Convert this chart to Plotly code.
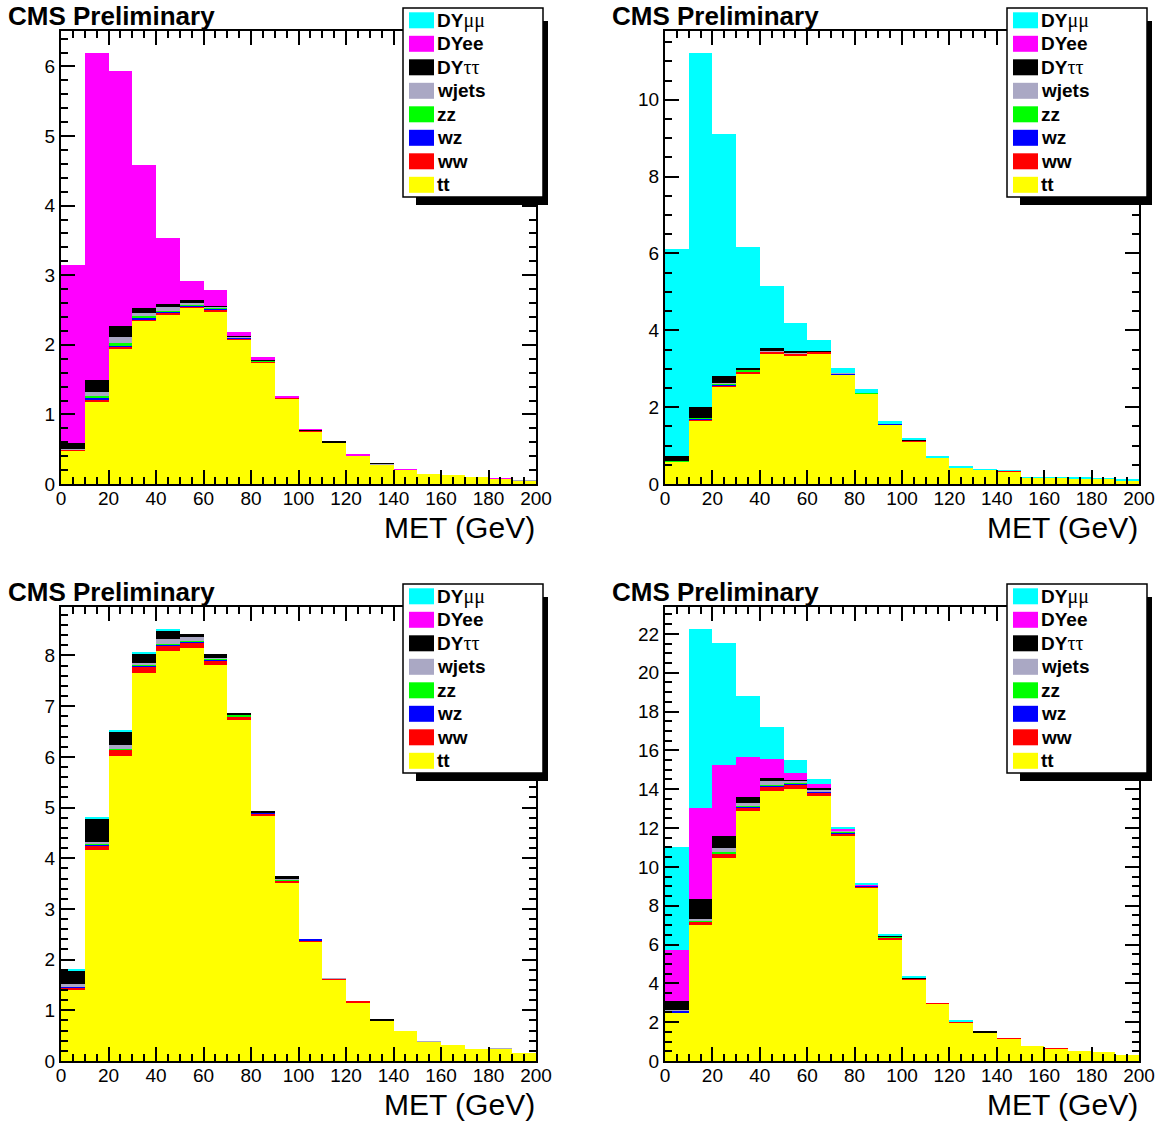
import plotly.graph_objects as go

# ---------------- data ----------------
bin_low = [0, 10, 20, 30, 40, 50, 60, 70, 80, 90, 100, 110, 120, 130, 140, 150, 160, 170, 180, 190]
bin_width = 10
x_ticks = [0, 20, 40, 60, 80, 100, 120, 140, 160, 180, 200]

# panel A (top left)
A_tt = [0.48, 1.18, 1.94, 2.34, 2.44, 2.53, 2.48, 2.08, 1.75, 1.23, 0.76, 0.595, 0.41, 0.285, 0.205, 0.14, 0.13, 0.095, 0.078, 0.055]
A_ww = [0.01, 0.03, 0.03, 0.03, 0.02, 0.02, 0.025, 0.015, 0.01, 0.01, 0.005, 0.005, 0.005, 0.0, 0.003, 0, 0, 0, 0, 0]
A_wz = [0.005, 0.03, 0.02, 0.02, 0.02, 0.015, 0.01, 0.01, 0.005, 0.005, 0.005, 0, 0, 0, 0, 0, 0, 0, 0, 0]
A_zz = [0.005, 0.03, 0.03, 0.02, 0.01, 0.01, 0.015, 0.005, 0.005, 0, 0, 0, 0, 0, 0, 0, 0, 0, 0, 0]
A_wj = [0.01, 0.05, 0.09, 0.05, 0.06, 0.04, 0.02, 0.005, 0, 0, 0.005, 0, 0, 0.005, 0, 0, 0, 0, 0, 0.002]
A_dytt = [0.08, 0.18, 0.16, 0.07, 0.03, 0.025, 0.01, 0.005, 0.005, 0.005, 0.005, 0.005, 0, 0.005, 0, 0, 0, 0, 0, 0]
A_dyee = [2.56, 4.70, 3.66, 2.06, 0.96, 0.28, 0.23, 0.06, 0.045, 0.005, 0.005, 0, 0.005, 0, 0.005, 0, 0, 0, 0.003, 0]
A_dymm = [0, 0, 0, 0, 0, 0, 0, 0, 0, 0, 0, 0, 0, 0, 0, 0, 0, 0, 0, 0]

# panel B (top right)
B_tt = [0.58, 1.66, 2.53, 2.88, 3.40, 3.35, 3.39, 2.84, 2.35, 1.54, 1.10, 0.69, 0.42, 0.375, 0.335, 0.17, 0.165, 0.155, 0.135, 0.095]
B_ww = [0.01, 0.03, 0.04, 0.04, 0.04, 0.04, 0.05, 0.02, 0.01, 0.01, 0.02, 0.01, 0.005, 0.005, 0.005, 0, 0, 0, 0, 0]
B_wz = [0.0, 0.01, 0.02, 0.02, 0.01, 0.01, 0.01, 0.02, 0.005, 0.02, 0, 0, 0, 0, 0, 0, 0, 0, 0, 0]
B_zz = [0.01, 0.03, 0.03, 0.03, 0.01, 0, 0, 0, 0.01, 0, 0, 0, 0, 0, 0, 0, 0, 0, 0, 0]
B_wj = [0, 0, 0.02, 0.01, 0.01, 0.01, 0, 0.01, 0, 0, 0, 0, 0, 0, 0, 0, 0, 0, 0, 0]
B_dytt = [0.14, 0.28, 0.18, 0.05, 0.07, 0.04, 0.01, 0.01, 0.005, 0.01, 0.02, 0, 0, 0, 0, 0, 0, 0, 0, 0]
B_dyee = [0, 0, 0, 0, 0, 0, 0, 0, 0, 0, 0, 0, 0, 0, 0, 0, 0, 0, 0, 0]
B_dymm = [5.37, 9.22, 6.30, 3.15, 1.62, 0.74, 0.28, 0.13, 0.09, 0.05, 0.06, 0.01, 0.045, 0.005, 0.005, 0.005, 0.01, 0.01, 0.01, 0.01]

# panel C (bottom left)
C_tt = [1.41, 4.17, 6.02, 7.66, 8.09, 8.14, 7.81, 6.73, 4.84, 3.53, 2.36, 1.61, 1.15, 0.79, 0.60, 0.38, 0.31, 0.23, 0.24, 0.15]
C_ww = [0.04, 0.09, 0.12, 0.12, 0.11, 0.11, 0.10, 0.06, 0.05, 0.03, 0.01, 0.01, 0.015, 0, 0, 0, 0, 0, 0, 0]
C_wz = [0.01, 0.02, 0.01, 0.03, 0.02, 0.02, 0.02, 0.01, 0.01, 0.01, 0.02, 0, 0, 0, 0, 0, 0, 0, 0, 0]
C_zz = [0.0, 0.01, 0.01, 0.02, 0.01, 0.01, 0.01, 0.03, 0, 0.02, 0, 0, 0, 0, 0, 0, 0, 0, 0, 0]
C_wj = [0.05, 0.04, 0.07, 0.02, 0.09, 0.09, 0.02, 0.01, 0.01, 0.02, 0, 0.01, 0, 0, 0, 0.01, 0, 0, 0.01, 0]
C_dytt = [0.27, 0.45, 0.27, 0.19, 0.16, 0.05, 0.07, 0.03, 0.03, 0.03, 0, 0, 0, 0.02, 0, 0, 0, 0, 0, 0]
C_dyee = [0, 0, 0, 0, 0, 0, 0, 0, 0, 0, 0, 0, 0, 0, 0, 0, 0, 0, 0, 0]
C_dymm = [0.02, 0.04, 0.02, 0.02, 0.05, 0, 0, 0, 0, 0, 0, 0, 0, 0, 0, 0, 0, 0, 0, 0]

# panel D (bottom right)
D_tt = [2.50, 6.99, 10.46, 12.89, 13.92, 14.01, 13.66, 11.61, 8.95, 6.27, 4.20, 2.96, 2.00, 1.46, 1.15, 0.75, 0.65, 0.49, 0.45, 0.31]
D_ww = [0.02, 0.17, 0.21, 0.17, 0.22, 0.22, 0.17, 0.12, 0.06, 0.08, 0.04, 0.02, 0.01, 0.02, 0.01, 0, 0.01, 0, 0, 0]
D_wz = [0.06, 0.04, 0.04, 0.05, 0.05, 0.05, 0.04, 0.03, 0.02, 0.02, 0, 0, 0, 0, 0, 0, 0, 0, 0, 0]
D_zz = [0.02, 0.06, 0.06, 0.04, 0.03, 0.03, 0.03, 0.05, 0, 0.03, 0, 0, 0, 0, 0, 0, 0, 0, 0, 0]
D_wj = [0.02, 0.07, 0.21, 0.15, 0.18, 0.12, 0.07, 0.05, 0, 0, 0, 0, 0, 0, 0, 0, 0, 0, 0, 0]
D_dytt = [0.48, 0.99, 0.63, 0.31, 0.20, 0.05, 0.09, 0.03, 0.01, 0.07, 0.05, 0, 0, 0.02, 0, 0, 0, 0, 0, 0]
D_dyee = [2.60, 4.69, 3.64, 2.06, 0.98, 0.33, 0.23, 0.06, 0.05, 0, 0, 0, 0, 0, 0, 0, 0, 0, 0, 0]
D_dymm = [5.34, 9.26, 6.30, 3.13, 1.62, 0.71, 0.26, 0.12, 0.10, 0.05, 0.06, 0, 0.06, 0, 0, 0, 0, 0, 0, 0]

# stacking order bottom -> top
proc_names = ["tt", "ww", "wz", "zz", "wjets", "DYtautau", "DYee", "DYmumu"]
proc_colors = ["#ffff00", "#ff0000", "#0000ff", "#00ff00", "#aaa8c4", "#000000", "#ff00ff", "#00ffff"]
# legend order top -> bottom
legend_labels = [
    "DY<span style='font-family:Liberation Serif;font-weight:normal;font-size:20px'>μμ</span>",
    "DYee",
    "DY<span style='font-family:Liberation Serif;font-weight:normal;font-size:20px'>ττ</span>",
    "wjets", "zz", "wz", "ww", "tt",
]
legend_colors = ["#00ffff", "#ff00ff", "#000000", "#aaa8c4", "#00ff00", "#0000ff", "#ff0000", "#ffff00"]

panels = [
    dict(data=[A_tt, A_ww, A_wz, A_zz, A_wj, A_dytt, A_dyee, A_dymm], major=1, minor=0.2),
    dict(data=[B_tt, B_ww, B_wz, B_zz, B_wj, B_dytt, B_dyee, B_dymm], major=2, minor=0.5),
    dict(data=[C_tt, C_ww, C_wz, C_zz, C_wj, C_dytt, C_dyee, C_dymm], major=1, minor=0.2),
    dict(data=[D_tt, D_ww, D_wz, D_zz, D_wj, D_dytt, D_dyee, D_dymm], major=2, minor=0.5),
]

# ---------------- layout geometry (pixels) ----------------
W, H = 1164, 1125
frames = [  # left, top, right, bottom
    (61, 31, 536, 484),
    (665, 31, 1139, 484),
    (61, 607, 536, 1061),
    (665, 607, 1139, 1061),
]

def px(x):
    return x / W

def py(y):
    return 1 - y / H

FONT = "Liberation Sans, Arial, Helvetica, sans-serif"
fig = go.Figure()
x_centers = [b + bin_width / 2 for b in bin_low]
layout = dict(
    width=W, height=H, autosize=False,
    margin=dict(l=0, r=0, t=0, b=0, pad=0, autoexpand=False),
    paper_bgcolor="white", plot_bgcolor="white",
    barmode="stack", bargap=0,
    showlegend=False,
    font=dict(family=FONT, color="black"),
)
shapes = []
annotations = []

for i, (panel, fr) in enumerate(zip(panels, frames)):
    n = "" if i == 0 else str(i + 1)
    xa, ya = "x" + n, "y" + n
    L, T, R, B = fr
    totals = [sum(v) for v in zip(*panel["data"])]
    ymax = 1.05 * max(totals)
    for name, col, vals in zip(proc_names, proc_colors, panel["data"]):
        fig.add_trace(go.Bar(
            x=x_centers, y=vals, width=bin_width, name=name,
            marker=dict(color=col, line=dict(width=0)),
            xaxis=xa, yaxis=ya, showlegend=False,
        ))
    common = dict(
        showline=True, linecolor="black", linewidth=2, mirror="allticks",
        ticks="inside", tickcolor="black", tickwidth=1.5,
        showgrid=False, zeroline=False, fixedrange=True, automargin=False,
        tickfont=dict(family=FONT, size=19, color="black"),
    )
    layout["xaxis" + n] = dict(
        domain=[px(L), px(R)], anchor=ya, range=[0, 200],
        tickmode="array", tickvals=x_ticks, ticktext=[str(v) for v in x_ticks],
        ticklen=14, ticklabelstandoff=-4,
        minor=dict(dtick=5, tick0=0, ticks="inside", ticklen=7, tickwidth=1.5, tickcolor="black"),
        **common,
    )
    layout["yaxis" + n] = dict(
        domain=[py(B), py(T)], anchor=xa, range=[0, ymax],
        tick0=0, dtick=panel["major"], ticklen=14,
        minor=dict(dtick=panel["minor"], tick0=0, ticks="inside", ticklen=7, tickwidth=1.5, tickcolor="black"),
        **common,
    )
    # titles
    annotations.append(dict(
        text="<b>CMS Preliminary</b>", xref="paper", yref="paper",
        x=px(L - 55), y=py(T - 15), xanchor="left", yanchor="middle",
        showarrow=False, font=dict(family=FONT, size=26, color="black"),
    ))
    annotations.append(dict(
        text="MET (GeV)", xref="paper", yref="paper",
        x=px(R + 1), y=py(B + 43), xanchor="right", yanchor="middle",
        showarrow=False, font=dict(family=FONT, size=30, color="black"),
    ))
    # legend box with shadow
    bx0, by0 = L + 342, T - 23
    bx1, by1 = L + 482, T + 166
    shapes.append(dict(type="rect", xref="paper", yref="paper", layer="above",
                       x0=px(bx0 + 13), x1=px(bx1 + 5), y0=py(by0 + 13), y1=py(by1 + 8),
                       fillcolor="black", line=dict(width=0)))
    shapes.append(dict(type="rect", xref="paper", yref="paper", layer="above",
                       x0=px(bx0), x1=px(bx1), y0=py(by0), y1=py(by1),
                       fillcolor="white", line=dict(color="black", width=1.5)))
    for k, (lab, col) in enumerate(zip(legend_labels, legend_colors)):
        cy = by0 + 12.3 + 23.5 * k
        shapes.append(dict(type="rect", xref="paper", yref="paper", layer="above",
                           x0=px(bx0 + 6), x1=px(bx0 + 31), y0=py(cy - 8), y1=py(cy + 8),
                           fillcolor=col, line=dict(width=0)))
        annotations.append(dict(
            text=lab, xref="paper", yref="paper",
            x=px(bx0 + 32), y=py(cy), xanchor="left", yanchor="middle",
            showarrow=False, font=dict(family=FONT, size=19, color="black", weight="bold"),
        ))

layout["shapes"] = shapes
layout["annotations"] = annotations
fig.update_layout(**layout)
fig.write_html("out.html")
